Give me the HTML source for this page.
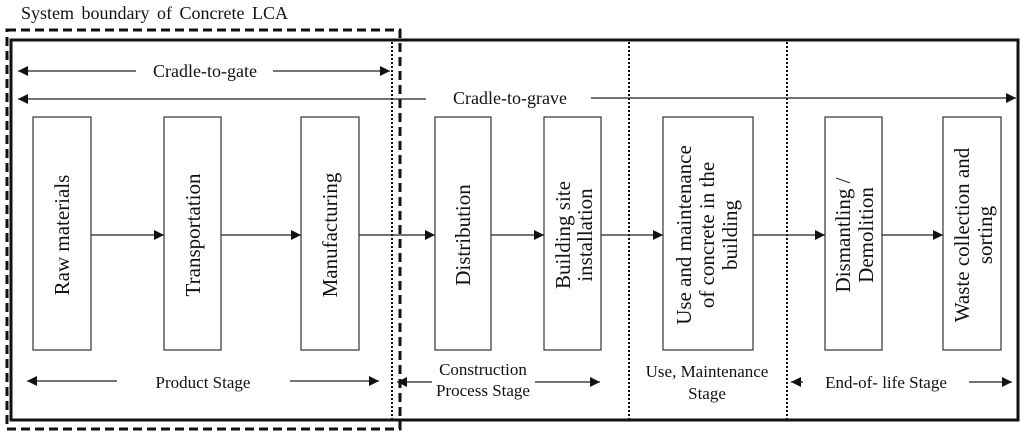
<!DOCTYPE html>
<html><head><meta charset="utf-8"><style>html,body{margin:0;padding:0;background:#fff}svg{display:block}</style></head>
<body>
<svg width="1024" height="436" viewBox="0 0 1024 436" xmlns="http://www.w3.org/2000/svg" font-family="'Liberation Serif', serif" fill="#111">
<defs><marker id="a" viewBox="0 0 10 10" refX="10" refY="5" markerWidth="18" markerHeight="10" markerUnits="userSpaceOnUse" orient="auto-start-reverse"><path d="M0,0L10,5L0,10z" fill="#111"/></marker></defs>
<text x="21" y="19" font-size="18" font-family="'Liberation Serif', serif" word-spacing="3">System boundary of Concrete LCA</text>
<rect x="11" y="40" width="1007" height="380" fill="none" stroke="#111" stroke-width="3"/>
<rect x="7" y="30" width="393" height="399" fill="none" stroke="#111" stroke-width="3" stroke-dasharray="9,5"/>
<g stroke="#111" stroke-width="2" stroke-dasharray="2,2"><line x1="392" y1="42" x2="392" y2="419"/><line x1="629" y1="42" x2="629" y2="419"/><line x1="787" y1="42" x2="787" y2="419"/></g>
<g stroke="#222" stroke-width="1.3">
<line x1="136" y1="71" x2="18" y2="71" marker-end="url(#a)"/><line x1="273" y1="71" x2="390" y2="71" marker-end="url(#a)"/>
<line x1="426" y1="99" x2="18" y2="99" marker-end="url(#a)"/><line x1="591" y1="98" x2="1016" y2="98" marker-end="url(#a)"/>
<line x1="117" y1="381" x2="27" y2="381" marker-end="url(#a)"/><line x1="290" y1="381" x2="379" y2="381" marker-end="url(#a)"/>
<line x1="432" y1="382" x2="397" y2="382" marker-end="url(#a)"/><line x1="535" y1="382" x2="600" y2="382" marker-end="url(#a)"/>
<line x1="803" y1="382" x2="791" y2="382" marker-end="url(#a)"/><line x1="969" y1="382" x2="1012" y2="382" marker-end="url(#a)"/>
<line x1="91" y1="235" x2="164" y2="235" marker-end="url(#a)"/><line x1="221" y1="235" x2="301" y2="235" marker-end="url(#a)"/>
<line x1="359" y1="235" x2="435" y2="235" marker-end="url(#a)"/><line x1="491" y1="235" x2="544" y2="235" marker-end="url(#a)"/>
<line x1="601" y1="235" x2="663" y2="235" marker-end="url(#a)"/><line x1="753" y1="235" x2="825" y2="235" marker-end="url(#a)"/>
<line x1="882" y1="235" x2="943" y2="235" marker-end="url(#a)"/>
</g>
<g fill="#fff" stroke="#333" stroke-width="1.2">
<rect x="33" y="117" width="58" height="233"/><rect x="164" y="117" width="57" height="233"/><rect x="301" y="117" width="58" height="233"/>
<rect x="435" y="117" width="56" height="233"/><rect x="544" y="117" width="57" height="233"/><rect x="663" y="117" width="90" height="233"/>
<rect x="825" y="117" width="57" height="233"/><rect x="943" y="117" width="58" height="233"/>
</g>
<g font-size="18" text-anchor="middle">
<text x="205" y="77">Cradle-to-gate</text>
<text x="510" y="104">Cradle-to-grave</text>
<text x="203" y="388" font-size="17">Product Stage</text>
<text x="483" y="375" font-size="17">Construction</text><text x="483" y="396" font-size="17">Process Stage</text>
<text x="707" y="377" font-size="17">Use, Maintenance</text><text x="707" y="399" font-size="17">Stage</text>
<text x="886" y="388" font-size="17">End-of- life Stage</text>
</g>
<g font-size="21" text-anchor="middle">
<text transform="translate(69,235) rotate(-90)">Raw materials</text>
<text transform="translate(200,235) rotate(-90)">Transportation</text>
<text transform="translate(337,235) rotate(-90)">Manufacturing</text>
<text transform="translate(470,235) rotate(-90)">Distribution</text>
<text transform="translate(570,235) rotate(-90)">Building site</text>
<text transform="translate(592,235) rotate(-90)">installation</text>
<text transform="translate(691,235) rotate(-90)">Use and maintenance</text>
<text transform="translate(714,235) rotate(-90)">of concrete in the</text>
<text transform="translate(737,235) rotate(-90)">building</text>
<text transform="translate(850,235) rotate(-90)">Dismantling /</text>
<text transform="translate(873,235) rotate(-90)">Demolition</text>
<text transform="translate(969,235) rotate(-90)">Waste collection and</text>
<text transform="translate(992,235) rotate(-90)">sorting</text>
</g>
</svg>
</body></html>
